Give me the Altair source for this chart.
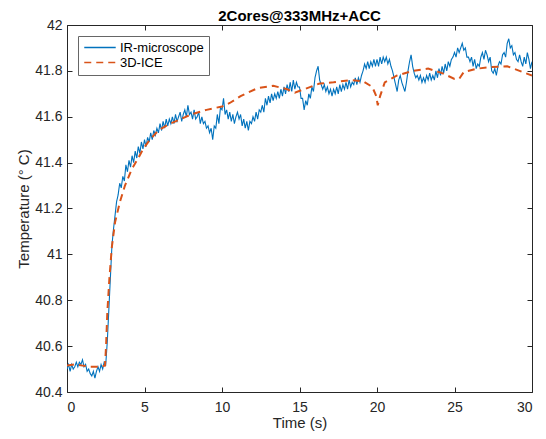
import altair as alt
import numpy as np
import pandas as pd

# IR-microscope measurement, sampled every 0.1 s from 0 to 30 s
ir_step = 0.1
ir_temp = [
    40.50, 40.52, 40.49, 40.52, 40.50, 40.51, 40.53, 40.51, 40.53, 40.52,
    40.54, 40.51, 40.52, 40.49, 40.50, 40.48, 40.47, 40.49, 40.46, 40.49,
    40.51, 40.49, 40.52, 40.50, 40.53, 40.52, 40.62, 40.76, 40.90, 41.04,
    41.11, 41.17, 41.23, 41.26, 41.31, 41.29, 41.34, 41.32, 41.39, 41.36,
    41.41, 41.38, 41.43, 41.40, 41.45, 41.42, 41.47, 41.44, 41.49, 41.46,
    41.50, 41.47, 41.51, 41.49, 41.53, 41.50, 41.54, 41.52, 41.55, 41.53,
    41.57, 41.54, 41.58, 41.55, 41.59, 41.56, 41.59, 41.57, 41.60, 41.57,
    41.61, 41.58, 41.60, 41.62, 41.58, 41.61, 41.63, 41.60, 41.65, 41.61,
    41.62, 41.59, 41.63, 41.59, 41.60, 41.62, 41.57, 41.60, 41.57, 41.58,
    41.55, 41.56, 41.53, 41.55, 41.50, 41.56, 41.55, 41.61, 41.57, 41.64,
    41.63, 41.68, 41.61, 41.63, 41.59, 41.62, 41.58, 41.61, 41.57, 41.60,
    41.62, 41.59, 41.61, 41.56, 41.59, 41.55, 41.58, 41.54, 41.58, 41.57,
    41.60, 41.58, 41.62, 41.59, 41.63, 41.62, 41.65, 41.62, 41.68, 41.65,
    41.69, 41.66, 41.70, 41.67, 41.70, 41.68, 41.71, 41.68, 41.72, 41.69,
    41.73, 41.70, 41.74, 41.71, 41.75, 41.71, 41.76, 41.72, 41.75, 41.73,
    41.73, 41.68, 41.68, 41.63, 41.67, 41.65, 41.70, 41.68, 41.73, 41.71,
    41.77, 41.80, 41.82, 41.76, 41.74, 41.72, 41.74, 41.71, 41.73, 41.70,
    41.72, 41.69, 41.72, 41.70, 41.73, 41.70, 41.74, 41.71, 41.74, 41.72,
    41.75, 41.72, 41.76, 41.73, 41.75, 41.74, 41.77, 41.74, 41.77, 41.75,
    41.78, 41.80, 41.83, 41.81, 41.84, 41.81, 41.84, 41.82, 41.85, 41.82,
    41.85, 41.82, 41.86, 41.83, 41.86, 41.84, 41.86, 41.83, 41.85, 41.82,
    41.80, 41.77, 41.74, 41.71, 41.76, 41.78, 41.75, 41.73, 41.71, 41.75,
    41.80, 41.84, 41.87, 41.82, 41.79, 41.77, 41.78, 41.76, 41.78, 41.75,
    41.77, 41.75, 41.78, 41.76, 41.79, 41.76, 41.78, 41.76, 41.80, 41.77,
    41.81, 41.78, 41.82, 41.79, 41.83, 41.80, 41.84, 41.82, 41.85, 41.86,
    41.88, 41.86, 41.90, 41.88, 41.90, 41.92, 41.89, 41.90, 41.86, 41.86,
    41.84, 41.86, 41.82, 41.85, 41.81, 41.83, 41.82, 41.86, 41.88, 41.85,
    41.89, 41.87, 41.84, 41.86, 41.80, 41.79, 41.81, 41.78, 41.82, 41.84,
    41.83, 41.87, 41.88, 41.86, 41.92, 41.94, 41.90, 41.91, 41.87, 41.88,
    41.85, 41.84, 41.87, 41.84, 41.82, 41.86, 41.83, 41.88, 41.85, 41.81,
    41.84,
]

# 3D-ICE simulation
ice_time = [0.0, 0.5, 1.0, 1.5, 2.0, 2.45, 2.52, 2.6, 2.73, 2.89, 3.1, 3.42,
            3.74, 4.17, 4.6, 4.92, 5.35, 5.89, 6.65, 7.18, 8.0, 9.0, 10.0,
            10.5, 11.2, 12.3, 13.3, 14.2, 14.7, 15.5, 16.3, 17.2, 18.3, 19.1,
            19.7, 19.95, 20.05, 20.2, 20.5, 21.3, 22.3, 23.3, 24.2, 25.0,
            25.3, 25.6, 26.5, 27.4, 28.4, 29.2, 30.0]
ice_temp = [40.515, 40.52, 40.515, 40.51, 40.51, 40.515, 40.60, 40.745, 40.89,
            41.03, 41.14, 41.23, 41.30, 41.37, 41.42, 41.46, 41.50, 41.54,
            41.57, 41.585, 41.61, 41.63, 41.645, 41.66, 41.69, 41.725, 41.735,
            41.72, 41.705, 41.725, 41.745, 41.75, 41.76, 41.755, 41.73, 41.69,
            41.65, 41.69, 41.75, 41.78, 41.80, 41.81, 41.79, 41.765, 41.765,
            41.795, 41.81, 41.817, 41.82, 41.80, 41.78]

series_names = ["IR-microscope", "3D-ICE"]
series_colors = ["#0072BD", "#D95319"]
x_ticks = [0, 5, 10, 15, 20, 25, 30]
y_ticks = [40.4, 40.6, 40.8, 41.0, 41.2, 41.4, 41.6, 41.8, 42.0]

ir_time = np.round(np.arange(len(ir_temp)) * ir_step, 2)
df = pd.concat([
    pd.DataFrame({"t": ir_time, "temp": ir_temp, "series": series_names[0]}),
    pd.DataFrame({"t": ice_time, "temp": ice_temp, "series": series_names[1]}),
], ignore_index=True)

FONT = "Liberation Sans"
TXT = "#262626"
xs = alt.Scale(domain=[0, 30], nice=False, zero=False)
ys = alt.Scale(domain=[40.4, 42], nice=False, zero=False)
cs = alt.Scale(domain=series_names, range=series_colors)
ds = alt.Scale(domain=series_names, range=[[1, 0], [7, 5]])

common_axis = dict(grid=False, domain=False, labelFont=FONT, titleFont=FONT,
                   labelColor=TXT, titleColor=TXT, tickColor=TXT)

base = alt.Chart(df)

blue = base.transform_filter(alt.datum.series == series_names[0]).mark_line(
    strokeWidth=1.1, clip=True
).encode(
    x=alt.X("t:Q", scale=xs, axis=alt.Axis(
        orient="bottom", values=x_ticks, ticks=False, title="Time (s)",
        labelFontSize=14, titleFontSize=15, labelPadding=8, titlePadding=1,
        titleFontWeight="normal", **common_axis)),
    y=alt.Y("temp:Q", scale=ys, axis=alt.Axis(
        orient="left", values=y_ticks, ticks=False, format=".1~f",
        title="Temperature (° C)", labelFontSize=14, titleFontSize=15,
        labelPadding=5, titlePadding=3, titleFontWeight="normal", **common_axis)),
    color=alt.Color("series:N", scale=cs, legend=alt.Legend(title=None)),
    strokeDash=alt.StrokeDash("series:N", scale=ds, legend=alt.Legend(title=None)),
    order=alt.Order("t:Q"),
)

orange = base.transform_filter(alt.datum.series == series_names[1]).mark_line(
    strokeWidth=2, clip=True
).encode(
    x=alt.X("t:Q", scale=xs, axis=None),
    y=alt.Y("temp:Q", scale=ys, axis=None),
    color=alt.Color("series:N", scale=cs, legend=alt.Legend(title=None)),
    strokeDash=alt.StrokeDash("series:N", scale=ds, legend=alt.Legend(title=None)),
    order=alt.Order("t:Q"),
)

# inward tick marks on all four sides (MATLAB box style)
tick_axis = dict(labels=False, title=None, offset=-5, tickSize=5,
                 minExtent=0, maxExtent=0, **common_axis)
ticks_a = base.mark_line(opacity=0).encode(
    x=alt.X("t:Q", scale=xs, axis=alt.Axis(orient="top", values=x_ticks, **tick_axis)),
    y=alt.Y("temp:Q", scale=ys, axis=alt.Axis(orient="right", values=y_ticks, **tick_axis)),
)
ticks_b = base.mark_line(opacity=0).encode(
    x=alt.X("t:Q", scale=xs, axis=alt.Axis(orient="bottom", values=x_ticks, **tick_axis)),
    y=alt.Y("temp:Q", scale=ys, axis=alt.Axis(orient="left", values=y_ticks, **tick_axis)),
)

chart = alt.layer(blue, orange, ticks_a, ticks_b).resolve_axis(
    x="independent", y="independent"
).properties(
    width=465, height=367,
    title=alt.TitleParams("2Cores@333MHz+ACC", font=FONT, fontSize=15,
                          fontWeight="bold", color="#000000", offset=5,
                          anchor="middle", frame="group", dy=11),
    autosize=alt.AutoSizeParams(type="none"),
    padding={"left": 59, "top": 17, "right": 6, "bottom": 39},
).configure_view(
    stroke=TXT, strokeWidth=1
).configure_legend(
    orient="none", legendX=11, legendY=11,
    strokeColor="#666666", fillColor="white", padding=5,
    labelFont=FONT, labelFontSize=13, labelColor="#000000",
    symbolType="M-1,0H5", symbolSize=110, symbolStrokeWidth=1.6,
    rowPadding=1, labelOffset=24, cornerRadius=0,
)

chart.save("out.html", embed_options={"renderer": "svg", "actions": False})
